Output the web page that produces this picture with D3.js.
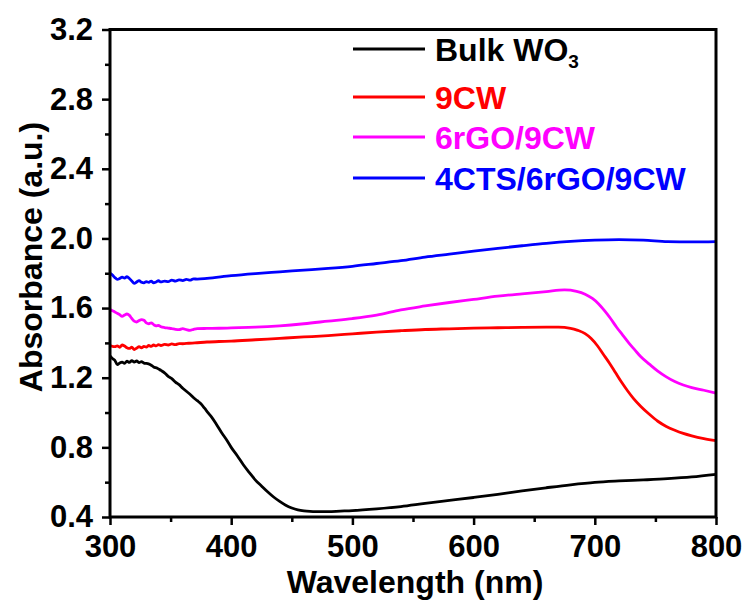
<!DOCTYPE html>
<html>
<head>
<meta charset="utf-8">
<script src="https://cdn.jsdelivr.net/npm/d3@7"></script>
<style>
  html, body { margin: 0; padding: 0; background: #fff; }
  svg { display: block; }
  text { font-family: "Liberation Sans", Arial, sans-serif; font-weight: bold; }
</style>
</head>
<body>
<svg id="chart" width="747" height="603"></svg>
<script>
// UV-vis absorbance spectra
const bulkNm  = [300,302,304,306,308,310,312,314,316,318,320,322,324,326,328,330,333,336,339,342,345,348,351,354,357,360,363,366,369,372,375,378,381,384,388,392,396,400,405,410,415,420,425,430,435,440,445,450,455,460,465,470,480,490,500,520,540,560,580,600,620,640,660,680,700,720,740,760,780,800];
const bulkAbs = [1.325,1.31,1.30,1.275,1.285,1.29,1.282,1.295,1.288,1.298,1.29,1.296,1.287,1.292,1.284,1.282,1.276,1.262,1.255,1.242,1.228,1.208,1.195,1.175,1.16,1.14,1.122,1.105,1.085,1.068,1.05,1.025,0.998,0.972,0.93,0.885,0.845,0.80,0.752,0.70,0.655,0.612,0.578,0.545,0.515,0.49,0.468,0.452,0.441,0.435,0.432,0.431,0.431,0.434,0.437,0.447,0.46,0.478,0.495,0.512,0.53,0.55,0.568,0.585,0.599,0.607,0.613,0.62,0.63,0.645];

const cwNm  = [300,302,304,306,308,310,312,314,316,318,320,322,324,326,328,330,332,334,336,338,340,342,345,348,351,354,357,360,365,370,380,390,400,420,440,460,480,500,520,540,560,580,600,620,640,660,670,680,686,692,697,702,707,712,717,722,727,732,738,745,752,759,766,773,780,790,800];
const cwAbs = [1.385,1.38,1.378,1.383,1.375,1.388,1.382,1.372,1.368,1.375,1.362,1.37,1.378,1.372,1.38,1.376,1.385,1.38,1.388,1.383,1.39,1.385,1.392,1.388,1.394,1.39,1.396,1.395,1.398,1.40,1.405,1.408,1.41,1.418,1.426,1.434,1.442,1.452,1.462,1.47,1.477,1.481,1.485,1.487,1.489,1.49,1.49,1.484,1.472,1.453,1.425,1.385,1.335,1.285,1.23,1.175,1.125,1.08,1.035,0.99,0.95,0.92,0.898,0.88,0.866,0.85,0.838];

const rgoNm  = [300,302,304,306,308,310,312,314,316,318,320,322,324,326,328,330,332,334,336,338,340,342,345,348,351,354,357,360,363,366,369,372,380,390,400,420,440,460,480,500,520,540,560,580,600,620,640,660,675,685,692,698,703,708,713,718,723,728,733,738,745,752,759,766,773,780,790,800];
const rgoAbs = [1.592,1.585,1.578,1.57,1.562,1.552,1.56,1.566,1.558,1.54,1.525,1.52,1.528,1.534,1.53,1.515,1.51,1.515,1.505,1.498,1.50,1.493,1.488,1.485,1.482,1.478,1.476,1.482,1.476,1.472,1.478,1.482,1.483,1.484,1.486,1.49,1.498,1.51,1.525,1.54,1.56,1.59,1.612,1.632,1.65,1.668,1.682,1.695,1.704,1.696,1.68,1.655,1.625,1.585,1.54,1.49,1.445,1.40,1.36,1.32,1.278,1.238,1.205,1.178,1.158,1.143,1.128,1.112];

const ctsNm  = [300,302,304,306,308,310,312,314,316,318,320,322,324,326,328,330,332,334,336,338,340,342,345,348,351,354,357,360,363,366,369,372,380,400,420,440,460,480,500,520,540,560,580,600,620,640,660,680,700,720,740,760,780,800];
const ctsAbs = [1.80,1.79,1.775,1.765,1.77,1.778,1.772,1.78,1.77,1.755,1.742,1.75,1.758,1.748,1.745,1.752,1.748,1.755,1.745,1.75,1.757,1.75,1.755,1.752,1.76,1.755,1.762,1.758,1.765,1.76,1.768,1.766,1.77,1.786,1.798,1.808,1.818,1.828,1.84,1.856,1.872,1.893,1.91,1.927,1.943,1.958,1.972,1.983,1.99,1.993,1.99,1.982,1.98,1.982];

const seriesNames  = ["Bulk WO", "9CW", "6rGO/9CW", "4CTS/6rGO/9CW"];
const seriesColors = ["#000000", "#ff0000", "#ff00ff", "#0000ff"];
const xTicks = [300, 400, 500, 600, 700, 800];
const yTicks = [0.4, 0.8, 1.2, 1.6, 2.0, 2.4, 2.8, 3.2];
const xMinor = [350, 450, 550, 650, 750];
const yMinor = [0.6, 1.0, 1.4, 1.8, 2.2, 2.6, 3.0];

const series = [
  { nm: bulkNm, abs: bulkAbs },
  { nm: cwNm,   abs: cwAbs },
  { nm: rgoNm,  abs: rgoAbs },
  { nm: ctsNm,  abs: ctsAbs }
].map((s, i) => ({
  name: seriesNames[i],
  color: seriesColors[i],
  points: s.nm.map((n, j) => [n, s.abs[j]])
}));

const svg = d3.select("#chart");
const plot = { left: 110, right: 716, top: 29.5, bottom: 517 };

const x = d3.scaleLinear().domain([300, 800]).range([plot.left, plot.right]);
const y = d3.scaleLinear().domain([0.4, 3.2]).range([plot.bottom, plot.top]);

// spectra
const line = d3.line()
  .x(d => x(d[0]))
  .y(d => y(d[1]))
  .curve(d3.curveMonotoneX);

svg.append("g")
  .selectAll("path")
  .data(series)
  .join("path")
  .attr("d", d => line(d.points))
  .attr("fill", "none")
  .attr("stroke", d => d.color)
  .attr("stroke-width", 2.8)
  .attr("stroke-linejoin", "round");

// frame
svg.append("rect")
  .attr("x", plot.left).attr("y", plot.top)
  .attr("width", plot.right - plot.left).attr("height", plot.bottom - plot.top)
  .attr("fill", "none").attr("stroke", "#000").attr("stroke-width", 3);

// axes
svg.append("g")
  .attr("transform", `translate(0,${plot.bottom})`)
  .call(d3.axisBottom(x).tickValues(xTicks).tickSize(8).tickPadding(10).tickFormat(d3.format("d")));
svg.append("g")
  .attr("transform", `translate(0,${plot.bottom})`)
  .call(d3.axisBottom(x).tickValues(xMinor).tickSize(5).tickFormat(""));

svg.append("g")
  .attr("transform", `translate(${plot.left},0)`)
  .call(d3.axisLeft(y).tickValues(yTicks).tickSize(8).tickPadding(9).tickFormat(d3.format(".1f")));
svg.append("g")
  .attr("transform", `translate(${plot.left},0)`)
  .call(d3.axisLeft(y).tickValues(yMinor).tickSize(5).tickFormat(""));

svg.selectAll(".domain").remove();
svg.selectAll(".tick line").attr("stroke", "#000").attr("stroke-width", 2.5);
svg.selectAll(".tick text")
  .attr("fill", "#000")
  .style("font-size", "31px")
  .style("font-family", "'Liberation Sans', Arial, sans-serif")
  .style("font-weight", "bold");

// axis titles
svg.append("text")
  .attr("x", (plot.left + plot.right) / 2 + 2)
  .attr("y", 593)
  .attr("text-anchor", "middle")
  .style("font-size", "32px")
  .text("Wavelength (nm)");

svg.append("text")
  .attr("transform", "translate(42,257) rotate(-90)")
  .attr("text-anchor", "middle")
  .style("font-size", "32px")
  .text("Absorbance (a.u.)");

// legend
const legendRows = [49, 97, 137, 178];
const legend = svg.append("g");
series.forEach((s, i) => {
  const ly = legendRows[i];
  legend.append("line")
    .attr("x1", 353).attr("x2", 425)
    .attr("y1", ly).attr("y2", ly)
    .attr("stroke", s.color).attr("stroke-width", 3);
  const t = legend.append("text")
    .attr("x", 435)
    .attr("y", ly + 11.5)
    .attr("fill", s.color)
    .style("font-size", "32px")
    .text(s.name);
  if (i === 0) {
    t.append("tspan")
      .attr("dy", 7)
      .style("font-size", "19px")
      .text("3");
  }
});
</script>
</body>
</html>
